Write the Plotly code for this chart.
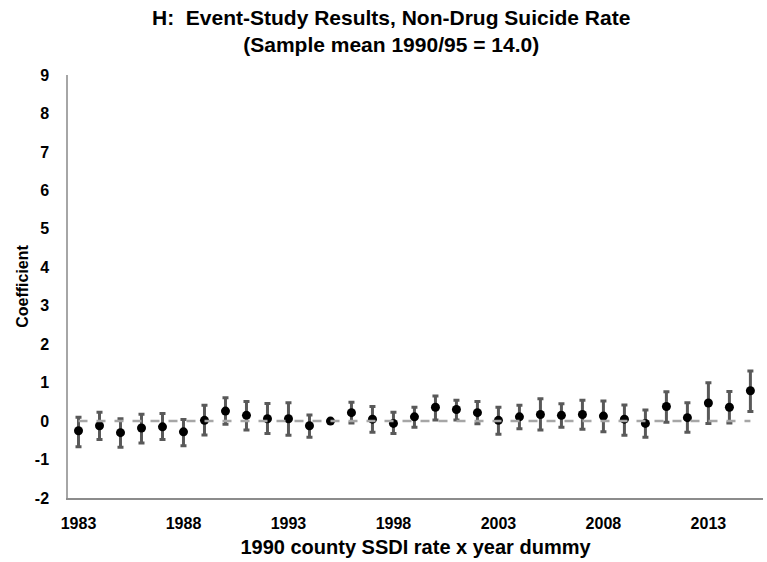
import plotly.graph_objects as go

# Event-study coefficients by year, with 95% confidence bounds
years = list(range(1983, 2016))
coef = [-0.25, -0.12, -0.30, -0.18, -0.15, -0.28, 0.02, 0.26, 0.15, 0.06, 0.06,
        -0.12, 0.00, 0.22, 0.05, -0.06, 0.11, 0.36, 0.30, 0.22, 0.02, 0.11,
        0.17, 0.15, 0.17, 0.13, 0.05, -0.06, 0.38, 0.09, 0.47, 0.36, 0.79]
upper = [0.10, 0.23, 0.06, 0.18, 0.20, 0.04, 0.41, 0.61, 0.51, 0.46, 0.48,
         0.16, 0.00, 0.49, 0.38, 0.23, 0.36, 0.65, 0.54, 0.51, 0.36, 0.41,
         0.58, 0.45, 0.54, 0.52, 0.42, 0.29, 0.76, 0.48, 1.00, 0.77, 1.30]
lower = [-0.67, -0.48, -0.68, -0.57, -0.48, -0.64, -0.36, -0.08, -0.23, -0.32, -0.37,
         -0.42, 0.00, -0.05, -0.29, -0.32, -0.16, 0.03, 0.03, -0.07, -0.34, -0.20,
         -0.23, -0.16, -0.21, -0.28, -0.37, -0.42, -0.03, -0.29, -0.06, -0.05, 0.25]
baseline = [0] * len(years)

y_ticks = list(range(-2, 10))
y_labels = ["-2", "-1", "0", "1", "2", "3", "4", "5", "6", "7", "8", "9"]
x_ticks = list(range(1983, 2016, 5))

err_plus = [u - c for u, c in zip(upper, coef)]
err_minus = [c - l for c, l in zip(coef, lower)]

FONT = "Liberation Sans, Arial, sans-serif"

fig = go.Figure()
fig.add_trace(go.Scatter(
    x=years, y=coef, mode="markers",
    marker=dict(color="black", size=9),
    error_y=dict(type="data", symmetric=False, array=err_plus, arrayminus=err_minus,
                 color="#595959", thickness=3, width=3),
    showlegend=False,
))
fig.add_trace(go.Scatter(
    x=years, y=baseline, mode="lines",
    line=dict(color="#A6A6A6", width=2.5, dash="dash"),
    showlegend=False, hoverinfo="skip",
))

# Two-line chart title, placed above the plot area
fig.add_annotation(
    text="H:  Event-Study Results, Non-Drug Suicide Rate<br>(Sample mean 1990/95 = 14.0)",
    xref="paper", yref="paper", x=(391 - 68) / 695, y=1.103,
    xanchor="center", yanchor="middle", showarrow=False,
    font=dict(size=21, family=FONT, weight="bold", color="black"),
)

fig.update_layout(
    width=767, height=562,
    margin=dict(l=68, r=4, t=75, b=64),
    paper_bgcolor="white", plot_bgcolor="white",
    font=dict(family=FONT, color="black"),
)
fig.update_xaxes(
    range=[1982.5, 2015.6], tickvals=x_ticks,
    showline=True, linecolor="#8C8C8C", linewidth=1.5,
    showgrid=False, zeroline=False, ticks="",
    tickfont=dict(size=16, family=FONT, weight="bold"), ticklabelstandoff=10,
    title=dict(text="1990 county SSDI rate x year dummy",
               font=dict(size=20, family=FONT, weight="bold"), standoff=9),
)
fig.update_yaxes(
    range=[-2, 9], tickvals=y_ticks, ticktext=y_labels,
    showline=True, linecolor="#A6A6A6", linewidth=1.5,
    showgrid=False, zeroline=False, ticks="",
    tickfont=dict(size=16, family=FONT, weight="bold"), ticklabelstandoff=14,
    title=dict(text="Coefficient", font=dict(size=16, family=FONT, weight="bold"), standoff=2),
)

fig.write_html("out.html")
